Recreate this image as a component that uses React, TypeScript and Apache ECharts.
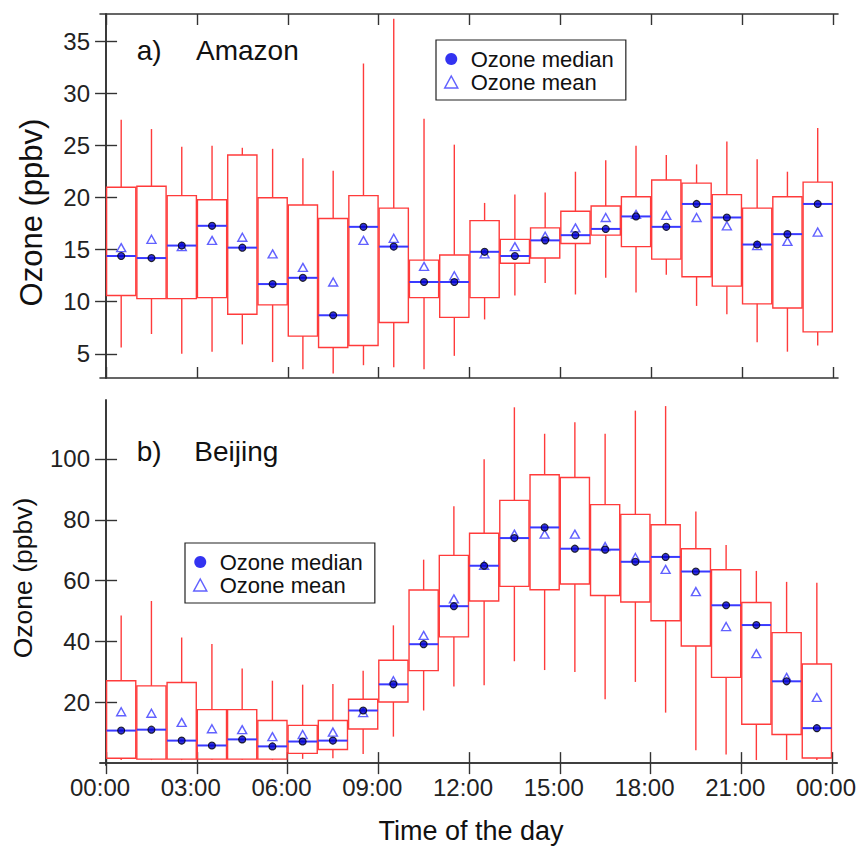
import React, { useEffect, useRef } from "react";
import * as echarts from "echarts";

const hours = [0.5, 1.5, 2.5, 3.5, 4.5, 5.5, 6.5, 7.5, 8.5, 9.5, 10.5, 11.5, 12.5, 13.5, 14.5, 15.5, 16.5, 17.5, 18.5, 19.5, 20.5, 21.5, 22.5, 23.5];
const xTicks = [0, 3, 6, 9, 12, 15, 18, 21, 24];
const amazonTicks = [5, 10, 15, 20, 25, 30, 35];
const beijingTicks = [20, 40, 60, 80, 100];

const amazonHigh = [27.5, 26.6, 24.9, 25.0, 24.8, 24.7, 23.8, 22.6, 32.9, 37.2, 27.6, 25.1, 19.5, 20.3, 20.5, 22.5, 23.6, 25.0, 24.1, 23.2, 25.4, 23.7, 22.5, 26.7];
const amazonQ3 = [21.0, 21.1, 20.2, 19.8, 24.1, 20.0, 19.3, 18.0, 20.2, 19.0, 14.0, 14.5, 17.8, 16.0, 17.1, 18.7, 19.2, 20.1, 21.7, 21.4, 20.3, 19.0, 20.1, 21.5];
const amazonMedian = [14.4, 14.2, 15.4, 17.3, 15.2, 11.7, 12.3, 8.7, 17.2, 15.3, 11.9, 11.9, 14.8, 14.4, 15.9, 16.4, 17.0, 18.2, 17.2, 19.4, 18.1, 15.5, 16.5, 19.4];
const amazonQ1 = [10.6, 10.3, 10.3, 10.4, 8.8, 9.7, 6.7, 5.6, 5.8, 8.0, 10.4, 8.5, 10.4, 13.7, 14.2, 15.6, 16.4, 15.3, 14.1, 12.4, 11.5, 9.8, 9.4, 7.1];
const amazonLow = [5.6, 6.9, 5.0, 5.2, 5.9, 4.2, 3.5, 3.1, 3.9, 3.7, 3.5, 4.8, 8.3, 10.6, 11.8, 10.7, 12.3, 10.9, 12.6, 9.6, 8.8, 6.1, 5.2, 5.8];
const amazonMean = [15.2, 16.0, 15.3, 15.9, 16.2, 14.6, 13.3, 11.9, 15.9, 16.1, 13.4, 12.5, 14.6, 15.3, 16.3, 17.1, 18.1, 18.4, 18.3, 18.1, 17.3, 15.4, 15.8, 16.7];

const beijingHigh = [48.5, 53.3, 41.3, 39.2, 31.1, 27.1, 25.8, 26.0, 30.4, 45.3, 66.9, 84.5, 99.9, 117.0, 108.3, 112.1, 108.3, 115.9, 117.4, 82.7, 71.7, 63.2, 59.6, 59.3];
const beijingQ3 = [27.1, 25.4, 26.5, 17.6, 17.6, 14.0, 12.4, 14.0, 21.0, 33.8, 56.9, 68.3, 75.6, 86.4, 94.8, 93.9, 85.0, 81.8, 78.4, 70.5, 63.6, 52.8, 42.9, 32.6];
const beijingMedian = [10.7, 11.0, 7.4, 5.8, 7.8, 5.5, 7.1, 7.4, 17.3, 25.9, 39.1, 51.6, 64.9, 74.0, 77.5, 70.5, 70.2, 66.2, 67.8, 63.0, 51.9, 45.4, 26.9, 11.5];
const beijingQ1 = [1.6, 1.3, 1.3, 1.3, 1.3, 1.3, 3.2, 4.5, 11.2, 20.1, 30.4, 41.5, 53.3, 58.1, 57.0, 58.9, 55.1, 53.0, 46.8, 38.5, 28.2, 12.8, 9.4, 1.7];
const beijingLow = [1.0, 1.0, 1.0, 1.0, 1.0, 1.0, 1.4, 1.6, 3.0, 8.7, 17.3, 25.2, 25.6, 33.5, 30.6, 30.0, 21.0, 26.7, 16.6, 4.2, 2.8, 1.0, 1.0, 1.0];
const beijingMean = [16.9, 16.4, 13.4, 11.3, 11.0, 8.7, 9.4, 10.2, 16.6, 27.1, 42.0, 54.0, 65.0, 75.3, 75.3, 75.3, 71.2, 67.6, 63.7, 56.4, 44.9, 36.0, 28.2, 21.6];

const RED = "#ff3b3b";
const BLUE = "#3a3aff";
const DOT = "#0000cc";
const AXIS = "#333333";
const FONT = "'Liberation Sans', Arial, Helvetica, sans-serif";

const fmtHour = (v: number) => {
  const h = Math.round(v) % 24;
  return (h < 10 ? "0" : "") + h + ":00";
};

function boxData(low: number[], q1: number[], med: number[], q3: number[], high: number[]) {
  return hours.map((h, i) => [h, low[i], q1[i], med[i], q3[i], high[i]]);
}

const renderBox = (params: any, api: any) => {
  const x = api.value(0);
  const lo = api.coord([x, api.value(1)]);
  const q1 = api.coord([x, api.value(2)]);
  const md = api.coord([x, api.value(3)]);
  const q3 = api.coord([x, api.value(4)]);
  const hi = api.coord([x, api.value(5)]);
  const w = api.size([0.965, 0])[0];
  const cx = lo[0];
  const ls = { stroke: RED, lineWidth: 1.4 };
  return {
    type: "group",
    children: [
      { type: "line", shape: { x1: cx, y1: lo[1], x2: cx, y2: q1[1] }, style: ls },
      { type: "line", shape: { x1: cx, y1: q3[1], x2: cx, y2: hi[1] }, style: ls },
      { type: "rect", shape: { x: cx - w / 2, y: q3[1], width: w, height: q1[1] - q3[1] }, style: { fill: "none", stroke: RED, lineWidth: 1.4 } },
      { type: "line", shape: { x1: cx - w / 2, y1: md[1], x2: cx + w / 2, y2: md[1] }, style: { stroke: BLUE, lineWidth: 2 } },
    ],
  };
};

const axisLineStyle = { show: true, lineStyle: { color: AXIS, width: 1.6 } };
const tickStyle = (vals: number[]) => ({ show: true, inside: true, length: 11, lineStyle: { color: AXIS, width: 1.4 }, customValues: vals });

function xAxes(gridIndex: number, showLabels: boolean) {
  return [
    {
      type: "value", gridIndex, min: -0.2, max: 24.17, position: "bottom",
      axisLine: axisLineStyle, axisTick: tickStyle(xTicks), splitLine: { show: false },
      axisLabel: { show: showLabels, customValues: xTicks, formatter: fmtHour, fontSize: 24, color: "#222", fontFamily: FONT, margin: 10, padding: [0, 12, 0, 0] },
    },
    {
      type: "value", gridIndex, min: -0.2, max: 24.17, position: "top",
      axisLine: axisLineStyle, axisTick: tickStyle(xTicks), splitLine: { show: false },
      axisLabel: { show: false, customValues: xTicks },
    },
  ];
}

function yAxes(gridIndex: number, min: number, max: number, ticks: number[]) {
  return [
    {
      type: "value", gridIndex, min, max, position: "left",
      axisLine: axisLineStyle, axisTick: tickStyle(ticks), splitLine: { show: false },
      axisLabel: { show: true, customValues: ticks, fontSize: 24, color: "#222", fontFamily: FONT, margin: 10 },
    },
    {
      type: "value", gridIndex, min, max, position: "right",
      axisLine: axisLineStyle, axisTick: tickStyle(ticks), splitLine: { show: false },
      axisLabel: { show: false, customValues: ticks },
    },
  ];
}

function panelSeries(xi: number, yi: number, low: number[], q1: number[], med: number[], q3: number[], high: number[], mean: number[]) {
  return [
    {
      type: "custom", name: "box", xAxisIndex: xi, yAxisIndex: yi,
      renderItem: renderBox, encode: { x: 0, y: [1, 2, 3, 4, 5] },
      data: boxData(low, q1, med, q3, high), silent: true,
    },
    {
      type: "scatter", name: "Ozone mean", xAxisIndex: xi, yAxisIndex: yi,
      symbol: "triangle", symbolSize: [9, 8],
      itemStyle: { color: "rgba(0,0,0,0)", borderColor: BLUE, borderWidth: 1.4 },
      data: hours.map((h, i) => [h, mean[i]]),
    },
    {
      type: "scatter", name: "Ozone median", xAxisIndex: xi, yAxisIndex: yi,
      symbol: "circle", symbolSize: 7,
      itemStyle: { color: DOT, borderColor: "#000", borderWidth: 1.1 },
      data: hours.map((h, i) => [h, med[i]]),
    },
  ];
}

function legend(left: number, top: number) {
  return {
    orient: "vertical", left, top,
    borderColor: "#222", borderWidth: 1.2, backgroundColor: "#fff",
    padding: [8, 12, 7, 8], itemGap: 1, itemWidth: 13, itemHeight: 12,
    textStyle: { fontSize: 22, color: "#111", fontFamily: FONT, lineHeight: 22, padding: [0, 0, 0, 8] },
    selectedMode: false,
    data: [
      { name: "Ozone median", icon: "circle", itemStyle: { color: "#0000ee", borderWidth: 0 } },
      { name: "Ozone mean", icon: "triangle", itemStyle: { color: "rgba(0,0,0,0)", borderColor: BLUE, borderWidth: 1.5 } },
    ],
  };
}

export default function App() {
  const ref = useRef<HTMLDivElement>(null);
  useEffect(() => {
    if (!ref.current) return;
    const chart = echarts.init(ref.current, undefined, { renderer: "svg" });
    const text = (t: string, x: number, y: number, size: number, align: string, rot = 0) => ({
      type: "text", x, y, rotation: rot, silent: true,
      style: { text: t, fontSize: size, fontFamily: FONT, fill: "#111", align, verticalAlign: "middle" },
    });
    chart.setOption({
      animation: false,
      backgroundColor: "#fff",
      textStyle: { fontFamily: FONT },
      grid: [
        { left: 100, top: 14, width: 738, height: 364 },
        { left: 100, top: 400, width: 738, height: 365 },
      ],
      xAxis: [...xAxes(0, false), ...xAxes(1, true)],
      yAxis: [...yAxes(0, 2.67, 37.66, amazonTicks), ...yAxes(1, -0.62, 119.4, beijingTicks)],
      legend: [legend(436, 40), legend(185, 543)],
      series: [
        ...panelSeries(0, 0, amazonLow, amazonQ1, amazonMedian, amazonQ3, amazonHigh, amazonMean),
        ...panelSeries(2, 2, beijingLow, beijingQ1, beijingMedian, beijingQ3, beijingHigh, beijingMean),
      ],
      graphic: [
        text("Ozone (ppbv)", 31.5, 212.5, 31, "center", Math.PI / 2),
        text("Ozone (ppbv)", 22.5, 578, 26.5, "center", Math.PI / 2),
        text("Time of the day", 471, 831, 27, "center"),
        text("a)", 136.7, 50, 28, "left"),
        text("Amazon", 196, 50, 28, "left"),
        text("b)", 136.7, 451.7, 28, "left"),
        text("Beijing", 194.3, 451.7, 28, "left"),
      ],
    });
    return () => chart.dispose();
  }, []);
  return <div ref={ref} style={{ position: "fixed", left: 0, top: 0, width: 859, height: 848 }} />;
}
